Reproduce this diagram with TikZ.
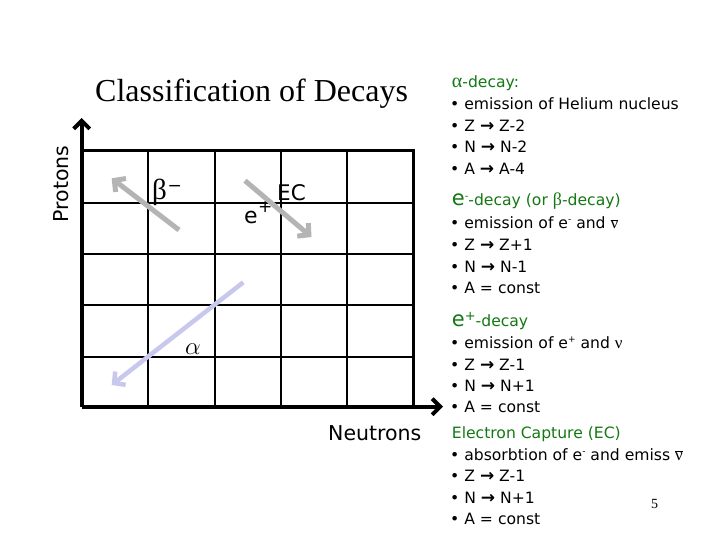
\documentclass[tikz,border=0pt]{standalone}
\usepackage{fontspec}
\setmainfont{DejaVu Sans}
\newfontfamily\tnr{Liberation Serif}
\usetikzlibrary{arrows.meta}
\definecolor{hdg}{RGB}{20,120,20}
\definecolor{agray}{RGB}{180,180,180}
\definecolor{alav}{RGB}{200,200,238}
\newcommand{\nubar}{$\overline{\hbox{\tnr\fontsize{17}{18}\selectfont ν}}$}
\newcommand{\ar}{{\fontsize{17}{18}\selectfont\bfseries →}}
\begin{document}
\begin{tikzpicture}[x=1pt,y=-1pt,
  txt/.style={anchor=base west, inner sep=0pt, font=\fontsize{15.6}{18}\selectfont},
  hd/.style={txt, text=hdg},
  gridline/.style={line width=2pt, line cap=rect},
  border/.style={line width=3pt, line cap=rect},
  axis/.style={line width=4pt, -{Straight Barb[length=8pt,width=16pt]}},
  grayarrow/.style={line width=5pt, draw=agray, -{Straight Barb[length=8pt,width=17pt]}},
  lavarrow/.style={line width=4.5pt, draw=alav, -{Straight Barb[length=8pt,width=17pt]}},
  lbl/.style={inner sep=0pt, anchor=base west}]
\useasboundingbox (0,0) rectangle (720,540);
\fill[white] (0,0) rectangle (720,540);

% title
\node[lbl, font=\tnr\fontsize{32}{34}\selectfont] (title) at (95,101.7) {Classification of Decays};

% grid
\foreach \x in {147.7,215,280.7,346.7}
  \draw[gridline] (\x,150.7) -- (\x,406.7);
\foreach \y in {203.3,253.5,304.5,357}
  \draw[gridline] (81.7,\y) -- (413.3,\y);
\draw[border] (81.7,150.7) -- (413.3,150.7) -- (413.3,406.7);

% axes
\coordinate (origin) at (81.7,406.7);
\coordinate (ytip) at (81.7,118);
\coordinate (xtip) at (443,406.7);
\draw[axis] (origin) -- (ytip);
\draw[axis] (origin) -- (xtip);
\node[inner sep=0pt, rotate=90, anchor=base, font=\fontsize{20.5}{22}\selectfont] (protons) at (68,184) {Protons};
\node[lbl, font=\fontsize{20.5}{22}\selectfont] (neutrons) at (328,440) {Neutrons};

% decay arrows
\coordinate (bs) at (179,230);
\coordinate (be) at (111.7,178.3);
\draw[grayarrow] (bs) -- (be);
\coordinate (es) at (245,180.7);
\coordinate (ee) at (311.5,237);
\draw[grayarrow] (es) -- (ee);
\coordinate (as) at (243.3,282.3);
\coordinate (ae) at (111.7,385);
\draw[lavarrow] (as) -- (ae);

% labels in grid
\node[lbl, font=\tnr\fontsize{29}{30}\selectfont] (beta) at (152,200) {β};
\node[lbl, font=\fontsize{17}{20}\selectfont] (betam) at (167.5,192) {−};
\node[lbl, font=\fontsize{21.5}{24}\selectfont] (ec) at (277,200.5) {EC};
\node[lbl, font=\fontsize{22}{24}\selectfont] (ep) at (244,224) {e};
\node[lbl, font=\fontsize{17}{20}\selectfont] (epp) at (258,213) {+};
\node[inner sep=0pt, font=\fontsize{28}{30}\selectfont] (alpha) at (193,349) {$\alpha$};

% right text: alpha decay
\node[hd] (h1) at (451.7,88) {{\tnr\fontsize{20}{20}\selectfont α}-decay:};
\node[txt] (a1) at (450,110) {• emission of Helium nucleus};
\node[txt] (a2) at (450,131.5) {• Z \ar{} Z-2};
\node[txt] (a3) at (450,153) {• N \ar{} N-2};
\node[txt] (a4) at (450,174.5) {• A \ar{} A-4};

% e- decay
\node[hd] (h2) at (451.7,205.5) {{\fontsize{21}{22}\selectfont e}\raisebox{6pt}{\fontsize{10}{10}\selectfont -}-decay (or {\tnr\fontsize{18}{18}\selectfont β}-decay)};
\node[txt] (b1) at (450,229) {• emission of e\raisebox{6pt}{\fontsize{9}{9}\selectfont -} and \nubar};
\node[txt] (b2) at (450,250.5) {• Z \ar{} Z+1};
\node[txt] (b3) at (450,272) {• N \ar{} N-1};
\node[txt] (b4) at (450,293.5) {• A = const};

% e+ decay
\node[hd] (h3) at (451.7,326) {{\fontsize{21}{22}\selectfont e}\raisebox{6pt}{\fontsize{13}{13}\selectfont +}-decay};
\node[txt] (c1) at (450,348.3) {• emission of e\raisebox{6pt}{\fontsize{9}{9}\selectfont +} and {\tnr\fontsize{17}{18}\selectfont ν}};
\node[txt] (c2) at (450,370) {• Z \ar{} Z-1};
\node[txt] (c3) at (450,391.7) {• N \ar{} N+1};
\node[txt] (c4) at (450,412.7) {• A = const};

% EC
\node[hd] (h4) at (451.7,438.3) {Electron Capture (EC)};
\node[txt] (d1) at (450,460) {• absorbtion of e\raisebox{6pt}{\fontsize{9}{9}\selectfont -} and emiss \nubar};
\node[txt] (d2) at (450,481.7) {• Z \ar{} Z-1};
\node[txt] (d3) at (450,503.3) {• N \ar{} N+1};
\node[txt] (d4) at (450,524) {• A = const};

% page number
\node[lbl, font=\tnr\fontsize{14}{16}\selectfont] (pnum) at (651,508) {5};
\end{tikzpicture}
\end{document}
